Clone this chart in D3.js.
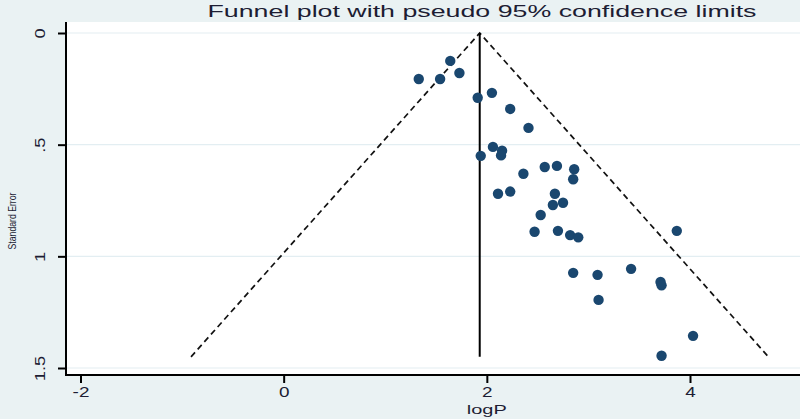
<!DOCTYPE html>
<html>
<head>
<meta charset="utf-8">
<script src="https://cdn.jsdelivr.net/npm/d3@7"></script>
<style>
  body { margin: 0; background: #eaf2f3; }
  svg { display: block; font-family: "Liberation Sans", Arial, sans-serif; }
</style>
</head>
<body>
<svg id="chart" width="800" height="419"></svg>
<script>
// study estimates
var logP = [1.33, 1.54, 1.64, 1.73, 1.91, 2.05, 2.23, 2.41, 2.06, 2.15, 2.14, 1.94,
            2.57, 2.69, 2.86, 2.85, 2.36, 2.11, 2.23, 2.67, 2.65, 2.75, 2.53, 2.47,
            2.70, 2.82, 2.90, 3.87, 2.85, 3.09, 3.42, 3.71, 3.72, 3.10, 4.03, 3.72];
var se   = [0.206, 0.206, 0.125, 0.179, 0.29, 0.268, 0.34, 0.425, 0.51, 0.527, 0.548, 0.55,
            0.60, 0.595, 0.61, 0.655, 0.63, 0.72, 0.71, 0.72, 0.77, 0.76, 0.815, 0.89,
            0.886, 0.905, 0.915, 0.886, 1.074, 1.083, 1.056, 1.115, 1.13, 1.195, 1.356, 1.445];
var pooled = 1.93;
var maxSE = 1.45;
var xTicks = [-2, 0, 2, 4];
var yTicks = [0, 0.5, 1, 1.5];
var yTickLabels = ["0", ".5", "1", "1.5"];

var svg = d3.select("#chart");
var ink = "#1d1d33";

var x = d3.scaleLinear().domain([-2, 4]).range([80.5, 690]);
var y = d3.scaleLinear().domain([0, 1.5]).range([33, 368]);

//plot region
svg.append("rect").attr("x", 66).attr("y", 22).attr("width", 734).attr("height", 353)
    .attr("fill", "#fff");

//grid lines
svg.selectAll("line.grid").data(yTicks).enter().append("line")
    .attr("class", "grid")
    .attr("x1", 67).attr("x2", 800)
    .attr("y1", function (d) { return y(d); }).attr("y2", function (d) { return y(d); })
    .attr("stroke", "#e3eef2").attr("stroke-width", 1.2);

//confidence limits
var limits = [[pooled - 1.96 * maxSE, maxSE], [pooled, 0], [pooled + 1.96 * maxSE, maxSE]];
svg.append("path")
    .attr("d", d3.line().x(function (d) { return x(d[0]); }).y(function (d) { return y(d[1]); })(limits))
    .attr("fill", "none").attr("stroke", "#111").attr("stroke-width", 1.7)
    .attr("stroke-dasharray", "6,4");

//pooled estimate
svg.append("line")
    .attr("x1", x(pooled)).attr("x2", x(pooled))
    .attr("y1", y(0)).attr("y2", y(maxSE))
    .attr("stroke", "#000").attr("stroke-width", 2);

//points
svg.selectAll("circle.pt").data(logP).enter().append("circle")
    .attr("class", "pt")
    .attr("cx", function (d) { return x(d); })
    .attr("cy", function (d, i) { return y(se[i]); })
    .attr("r", 5.2)
    .attr("fill", "#1a476f");

//axes
var yAxis = svg.append("g").attr("transform", "translate(66,0)")
    .call(d3.axisLeft(y).tickValues(yTicks).tickSize(8).tickPadding(6)
        .tickFormat(function (d, i) { return yTickLabels[i]; }));
yAxis.select(".domain").attr("d", "M0," + (y(0) - 11) + "V375").attr("stroke-width", 2);
yAxis.selectAll(".tick line").attr("stroke-width", 2);
yAxis.selectAll(".tick text")
    .attr("transform", "rotate(-90) scale(1.3,1)")
    .attr("x", 0).attr("y", -26).attr("dy", "0.35em")
    .attr("text-anchor", "middle")
    .style("font-size", "14px").attr("fill", ink);

var xAxis = svg.append("g").attr("transform", "translate(0,375)")
    .call(d3.axisBottom(x).tickValues(xTicks).tickSize(8).tickPadding(4).tickFormat(d3.format("d")));
xAxis.select(".domain").attr("d", "M65,0H800").attr("stroke-width", 2);
xAxis.selectAll(".tick line").attr("stroke-width", 2);
xAxis.selectAll(".tick text").style("font-size", "14px").attr("fill", ink)
    .attr("transform", "scale(1.35,1)")
    .text(function (d) { return d < 0 ? "-" + Math.abs(d) : d; });

//titles
svg.append("text").attr("x", 482).attr("y", 17).attr("text-anchor", "middle")
    .attr("textLength", 549).attr("lengthAdjust", "spacingAndGlyphs")
    .style("font-size", "17px").attr("fill", ink)
    .text("Funnel plot with pseudo 95% confidence limits");
svg.append("text").attr("x", x(2)).attr("y", 414).attr("text-anchor", "middle")
    .attr("textLength", 40).attr("lengthAdjust", "spacingAndGlyphs")
    .style("font-size", "12px").attr("fill", ink).text("logP");
svg.append("text").attr("transform", "translate(16,221) rotate(-90)")
    .attr("text-anchor", "middle")
    .attr("textLength", 57).attr("lengthAdjust", "spacingAndGlyphs")
    .style("font-size", "10px").attr("fill", ink).text("Standard Error");
</script>
</body>
</html>
